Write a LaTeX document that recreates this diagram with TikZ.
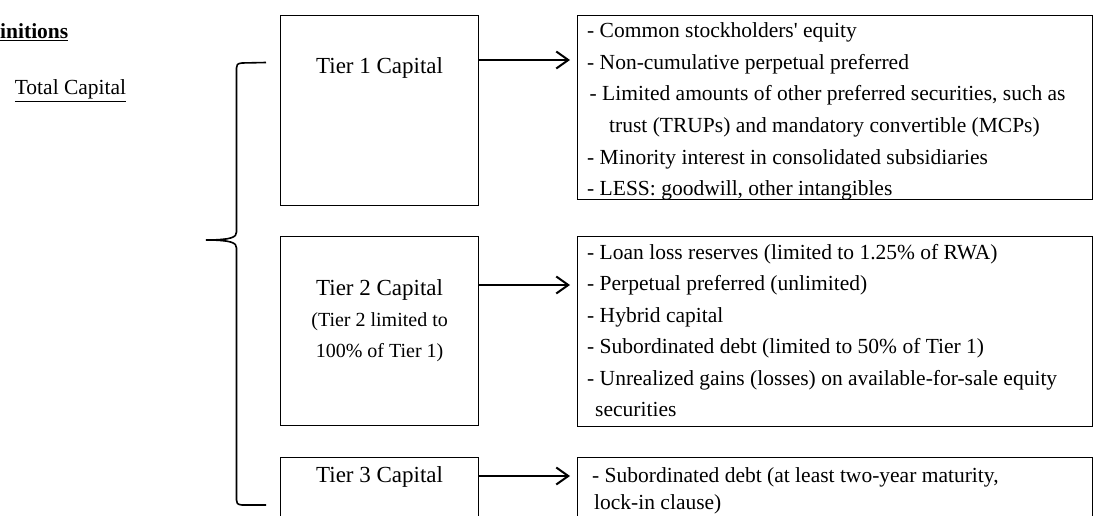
\documentclass[tikz,border=0pt]{standalone}
\usepackage{fontspec}
\setmainfont{Liberation Serif}
\usetikzlibrary{arrows.meta,calc,positioning}
\tikzstyle{tierbox}=[draw,line width=1.2pt,minimum width=198pt,inner sep=0pt,anchor=north west]
\tikzstyle{itembox}=[draw,line width=1.2pt,minimum width=515pt,inner sep=0pt,anchor=north west]
\tikzstyle{tiername}=[font={\fontsize{23}{28}\selectfont},inner sep=0pt,anchor=base]
\tikzstyle{tiernote}=[font={\fontsize{20}{24}\selectfont},inner sep=0pt,anchor=base]
\tikzstyle{item}=[font={\fontsize{21.5}{26}\selectfont},inner sep=0pt,anchor=base west]
\tikzstyle{heading}=[font={\fontsize{21.5}{26}\selectfont},inner sep=0pt]
\tikzstyle{capflow}=[-{Straight Barb[length=12pt,width=17pt]},line width=2pt]

\begin{document}
\begin{tikzpicture}[x=1pt,y=-1pt]
\def\rowsep{31.5}
\useasboundingbox (0,0) rectangle (1115,516);
\clip (0,0) rectangle (1115,516);

    % titles on the left
    \node[heading,font={\fontsize{21.5}{26}\selectfont\bfseries},anchor=base west] (defs) at (0,39) {\underline{initions}};
    \node[heading,anchor=base] (total) at (70.5,95) {\underline{Total Capital}};

    % brace round the three tiers
    \draw[line width=1.6pt] (266,62.5) -- (242,63) .. controls (237,63.5) and (236.5,65) .. (236.5,68)
        -- (236.5,232) .. controls (236.5,237) and (232,240) .. (206,240)
        .. controls (232,240) and (236.5,243) .. (236.5,248)
        -- (236.5,500) .. controls (236.5,503) and (237,504.5) .. (242,505) -- (266,505);
    \fill (206,240) -- (226,238.6) -- (226,241.4) -- cycle;

    % tier boxes
    \node[tierbox,minimum height=190pt] (tier1) at (280,15) {};
    \node[tierbox,minimum height=189pt] (tier2) at (280,235.5) {};
    \node[tierbox,minimum height=80pt] (tier3) at (280,456.5) {};

    \node[tiername] (t1name) at ($(tier1.north)+(0,59)$) {Tier 1 Capital};
    \node[tiername] (t2name) at ($(tier2.north)+(0,59.5)$) {Tier 2 Capital};
    \node[tiernote] (t2note1) at ($(tier2.north)+(0,90.5)$) {(Tier 2 limited to};
    \node[tiernote] (t2note2) at ($(tier2.north)+(0,121.5)$) {100\% of Tier 1)};
    \node[tiername] (t3name) at ($(tier3.north)+(0,25.5)$) {Tier 3 Capital};

    % boxes with the components
    \node[itembox,minimum height=184pt] (items1) at (577,15) {};
    \node[itembox,minimum height=190pt] (items2) at (577,235.5) {};
    \node[itembox,minimum height=80pt] (items3) at (577,456.5) {};

    \foreach \dx/\txt [count=\i from 0] in {
        10/{- Common stockholders\textquotesingle\ equity},
        10/{- Non-cumulative perpetual preferred},
        12.5/{- Limited amounts of other preferred securities, such as},
        32/{trust (TRUPs) and mandatory convertible (MCPs)},
        10/{- Minority interest in consolidated subsidiaries},
        10/{- LESS: goodwill, other intangibles}}
        \node[item] (it1-\i) at ($(items1.north west)+(\dx,23+\rowsep*\i)$) {\txt};

    \foreach \dx/\txt [count=\i from 0] in {
        10/{- Loan loss reserves (limited to 1.25\% of RWA)},
        10/{- Perpetual preferred (unlimited)},
        10/{- Hybrid capital},
        10/{- Subordinated debt (limited to 50\% of Tier 1)},
        10/{- Unrealized gains (losses) on available-for-sale equity},
        18/{securities}}
        \node[item] (it2-\i) at ($(items2.north west)+(\dx,23.5+\rowsep*\i)$) {\txt};

    \foreach \dx/\txt [count=\i from 0] in {
        15/{- Subordinated debt (at least two-year maturity,},
        17/{lock-in clause)}}
        \node[item] (it3-\i) at ($(items3.north west)+(\dx,25.5+27*\i)$) {\txt};

    % arrows from each tier to its components
    \draw[capflow] ([yshift=-45pt]tier1.north east) -- ([yshift=-45pt,xshift=-7pt]items1.north west);
    \draw[capflow] ([yshift=-49.5pt]tier2.north east) -- ([yshift=-49.5pt,xshift=-7pt]items2.north west);
    \draw[capflow] ([yshift=-19.5pt]tier3.north east) -- ([yshift=-19.5pt,xshift=-7pt]items3.north west);
\end{tikzpicture}
\end{document}
